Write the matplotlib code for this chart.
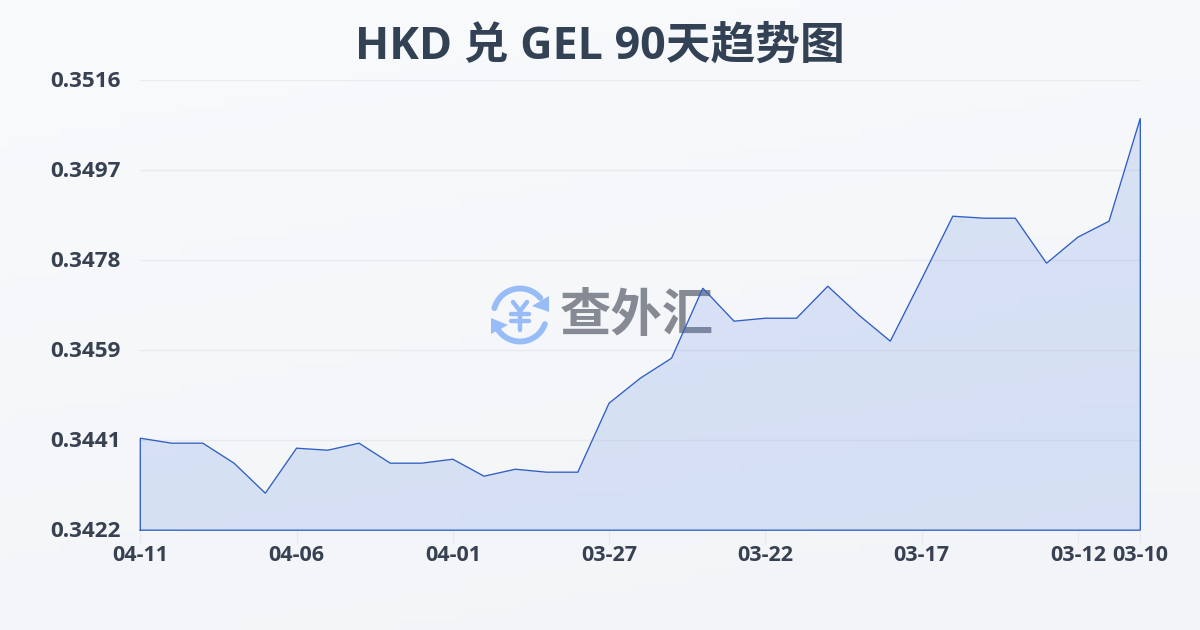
import numpy as np
import matplotlib
matplotlib.use("Agg")
import matplotlib.pyplot as plt
from matplotlib.patches import Arc, Polygon
from matplotlib.transforms import ScaledTranslation

TITLE = "HKD 兑 GEL 90天趋势图"
WATERMARK = "查外汇"
rates = [0.344122, 0.344018, 0.344018, 0.343600, 0.342973, 0.343913, 0.343871, 0.344018,
         0.343600, 0.343600, 0.343683, 0.343328, 0.343474, 0.343412, 0.343412, 0.344853,
         0.345375, 0.345793, 0.347255, 0.346566, 0.346628, 0.346628, 0.347297, 0.346691,
         0.346148, 0.347443, 0.348759, 0.348717, 0.348717, 0.347777, 0.348320, 0.348655,
         0.350806]
x_tick_index = [0, 5, 10, 15, 20, 25, 30, 32]
x_tick_labels = ["04-11", "04-06", "04-01", "03-27", "03-22", "03-17", "03-12", "03-10"]
y_ticks = [0.3422, 0.34408, 0.34596, 0.34784, 0.34972, 0.3516]
y_tick_labels = ["0.3422", "0.3441", "0.3459", "0.3478", "0.3497", "0.3516"]
y_min, y_max = 0.3422, 0.3516

CJK = ["Noto Sans CJK SC", "DejaVu Sans"]
MIXED = ["Open Sans", "Noto Sans CJK SC", "DejaVu Sans"]
W, H = 1200, 630
fig = plt.figure(figsize=(W / 100, H / 100), dpi=100)

# background gradient
bg = fig.add_axes([0, 0, 1, 1], zorder=0)
bg.axis("off")
yy, xx = np.mgrid[0:1:64j, 0:1:120j]
t = (xx * 0.25 + yy * 0.75)
c0 = np.array([0xf9, 0xfa, 0xfc]) / 255
c1 = np.array([0xf2, 0xf4, 0xf7]) / 255
bg.imshow(c0 + (c1 - c0) * t[..., None], aspect="auto", extent=(0, W, H, 0))
bg.set_xlim(0, W)
bg.set_ylim(H, 0)

# watermark text and logo, under the chart
bg.text(636.5, 315, WATERMARK, family=CJK, fontsize=37, fontweight="bold", color="#868a94",
        ha="center", va="center")
LOGO = "#97bcf8"
cx, cy, r = 520, 315, 26.5
bg.add_patch(Arc((cx, cy), 2 * r, 2 * r, theta1=195, theta2=320, lw=4.2, color=LOGO, capstyle="round"))
bg.add_patch(Arc((cx, cy), 2 * r, 2 * r, theta1=20, theta2=150, lw=4.2, color=LOGO, capstyle="round"))
bg.add_patch(Polygon([[549, 296], [549, 312], [532, 306]], color=LOGO, lw=0))
bg.add_patch(Polygon([[491, 318], [508, 325], [491, 334]], color=LOGO, lw=0))
bg.plot([513, 520, 527], [302, 311, 302], color=LOGO, lw=3.2, solid_capstyle="round", solid_joinstyle="round")
bg.plot([520, 520], [311, 330], color=LOGO, lw=3.2, solid_capstyle="round")
bg.plot([511, 529], [314, 314], color=LOGO, lw=3.2, solid_capstyle="round")
bg.plot([511, 529], [321, 321], color=LOGO, lw=3.2, solid_capstyle="round")

# chart
ax = fig.add_axes([140.3 / W, 1 - 530.2 / H, 1000 / W, 450 / H], zorder=2)
ax.patch.set_alpha(0)
x = np.arange(len(rates))
ax.set_xlim(0, len(rates) - 1)
ax.set_ylim(y_min, y_max)
ax.set_yticks(y_ticks, y_tick_labels)
ax.set_xticks(x_tick_index, x_tick_labels)
ax.grid(axis="y", color="#e8eaef", lw=1)
ax.set_axisbelow(True)
for s in ax.spines.values():
    s.set_visible(False)
ax.fill_between(x, rates, y_min, facecolor="#4675dc", alpha=0.17, lw=0, zorder=3)
ax.plot(np.r_[x[0], x, x[-1], x[0]], np.r_[y_min, rates, y_min, y_min], color="#2f5fc4", lw=0.95,
        zorder=4, solid_joinstyle="miter", clip_on=False)
ax.tick_params(axis="y", length=0, pad=14, labelsize=16.2, labelcolor="#374151")
ax.tick_params(axis="x", length=10, width=1, color="#e8eaef", pad=0.5, labelsize=15.5, labelcolor="#374151")
for lab in ax.get_xticklabels() + ax.get_yticklabels():
    lab.set_family(MIXED)
    lab.set_fontweight("bold")
shift = ScaledTranslation(0, 1.5 / 100, fig.dpi_scale_trans)
for lab in ax.get_yticklabels():
    lab.set_transform(lab.get_transform() + shift)

fig.text(599.5 / W, 1 - 47 / H, TITLE, family=MIXED, fontsize=32.2, fontweight="bold", color="#334155",
         ha="center", va="center", zorder=5)
fig.savefig("out.png", dpi=100)
